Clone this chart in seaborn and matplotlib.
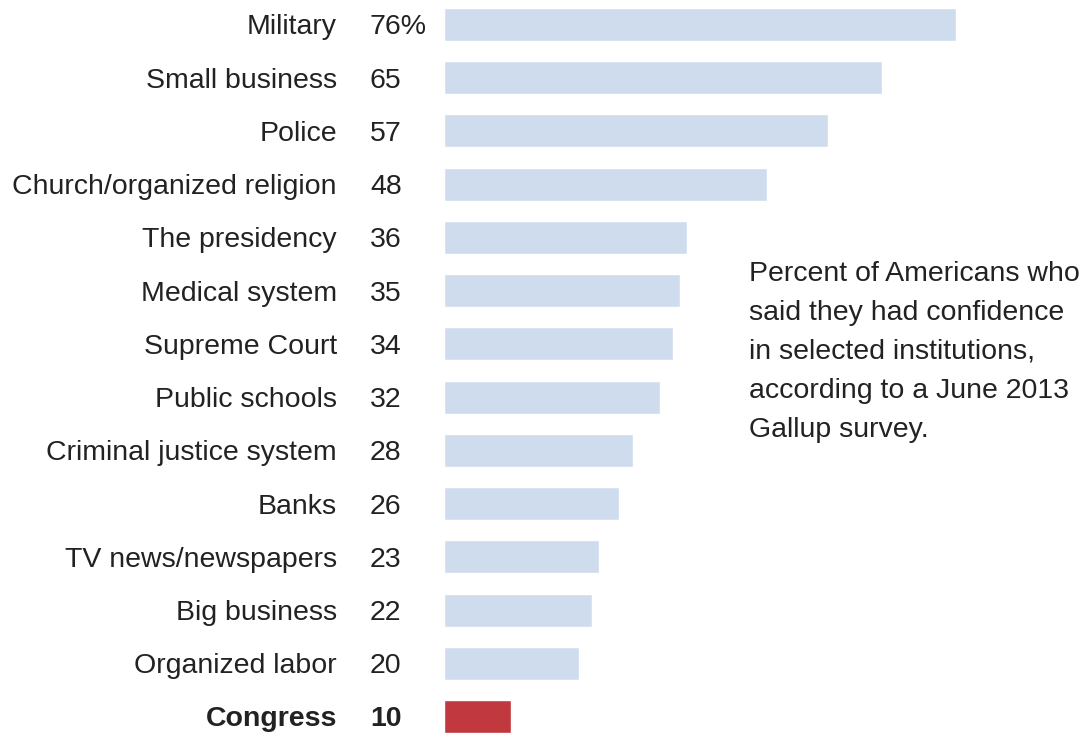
import matplotlib
matplotlib.use("Agg")
import matplotlib.pyplot as plt
import matplotlib.transforms as mtransforms
import seaborn as sns
import pandas as pd

institutions = [
    "Military", "Small business", "Police", "Church/organized religion",
    "The presidency", "Medical system", "Supreme Court", "Public schools",
    "Criminal justice system", "Banks", "TV news/newspapers", "Big business",
    "Organized labor", "Congress",
]
confidence = [76, 65, 57, 48, 36, 35, 34, 32, 28, 26, 23, 22, 20, 10]
highlight = "Congress"

note = ("Percent of Americans who\nsaid they had confidence\n"
        "in selected institutions,\naccording to a June 2013\nGallup survey.")

BLUE = "#cfdcee"
RED = "#c1393f"
TEXT = "#222222"

sns.set_theme(style="white")
plt.rcParams["font.family"] = ["Liberation Sans", "DejaVu Sans"]

W, H = 1089, 733
fig = plt.figure(figsize=(W / 100, H / 100), dpi=100)
fig.patch.set_facecolor("white")

# bars start at x=444 px and run to the right edge of the figure
ax = fig.add_axes([444 / W, 0, 1 - 444 / W, 1])

df = pd.DataFrame({"institution": institutions, "confidence": confidence})
palette = {name: (RED if name == highlight else BLUE) for name in institutions}
sns.barplot(data=df, y="institution", x="confidence", hue="institution",
            palette=palette, orient="h", width=0.62, legend=False, ax=ax,
            saturation=1)

px_per_unit = 6.737
ax.set_xlim(0, (W - 444) / px_per_unit)
row_gap = 53.23
ax.set_ylim((H - 24.5) / row_gap, -24.5 / row_gap)
ax.set_axis_off()

fs = 20.5
trans = mtransforms.blended_transform_factory(fig.transFigure, ax.transData)
for i, (name, val) in enumerate(zip(institutions, confidence)):
    weight = "bold" if name == highlight else "normal"
    ax.text(337 / W, i, name, transform=trans, ha="right",
            va="center_baseline", fontsize=fs, color=TEXT, fontweight=weight)
    label = f"{val}%" if i == 0 else f"{val}"
    ax.text(370 / W, i, label, transform=trans, ha="left",
            va="center_baseline", fontsize=fs, color=TEXT, fontweight=weight)

fig.text(749 / W, 1 - 352 / H, note, ha="left", va="center",
         fontsize=fs, color=TEXT, linespacing=1.65)

fig.savefig("out.png", dpi=100, facecolor="white")
